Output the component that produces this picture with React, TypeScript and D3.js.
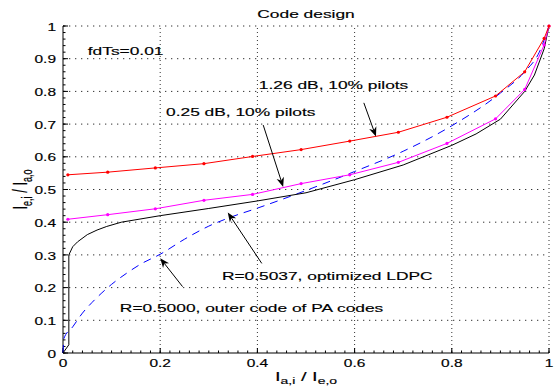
import React from 'react';
import * as d3 from 'd3';

// ---------- data ----------
const xTicks = [0, 0.2, 0.4, 0.6, 0.8, 1];
const xTickLabels = ['0', '0.2', '0.4', '0.6', '0.8', '1'];
const yTicks = [0, 0.1, 0.2, 0.3, 0.4, 0.5, 0.6, 0.7, 0.8, 0.9, 1];
const yTickLabels = ['0', '0.1', '0.2', '0.3', '0.4', '0.5', '0.6', '0.7', '0.8', '0.9', '1'];

// 1.26 dB, 10% pilots (red, dot markers)
const redX = [0.01, 0.092, 0.19, 0.29, 0.39, 0.49, 0.59, 0.69, 0.79, 0.89, 0.95, 0.99, 1.0];
const redY = [0.545, 0.553, 0.566, 0.579, 0.601, 0.622, 0.648, 0.675, 0.721, 0.786, 0.86, 0.962, 1.0];

// 0.25 dB, 10% pilots (magenta, dot markers)
const magX = [0.01, 0.092, 0.19, 0.29, 0.39, 0.49, 0.59, 0.69, 0.79, 0.89, 0.95, 0.99, 1.0];
const magY = [0.409, 0.423, 0.441, 0.467, 0.485, 0.518, 0.545, 0.583, 0.641, 0.716, 0.806, 0.942, 1.0];

// R=0.5037, optimized LDPC (black)
const ldpcX = [0, 0.012, 0.012, 0.02, 0.03, 0.05, 0.07, 0.09, 0.12, 0.2, 0.3, 0.4, 0.5, 0.6, 0.7, 0.8, 0.85, 0.9, 0.95, 0.97, 0.99, 1.0];
const ldpcY = [0, 0.025, 0.3, 0.325, 0.34, 0.362, 0.376, 0.387, 0.4, 0.42, 0.442, 0.465, 0.49, 0.53, 0.575, 0.635, 0.67, 0.715, 0.8, 0.85, 0.93, 1.0];

// R=0.5000, outer code of PA codes (blue dashed)
const paX = [0, 0.002, 0.02, 0.04, 0.06, 0.08, 0.1, 0.13, 0.16, 0.2, 0.25, 0.3, 0.35, 0.4, 0.5, 0.6, 0.7, 0.8, 0.9, 0.95, 0.98, 1.0];
const paY = [0, 0.045, 0.08, 0.122, 0.155, 0.184, 0.21, 0.243, 0.272, 0.302, 0.348, 0.388, 0.418, 0.443, 0.497, 0.555, 0.617, 0.695, 0.795, 0.86, 0.92, 1.0];

const titleText = 'Code design';
const noteText = 'fdTs=0.01';
const labelTexts = ['1.26 dB, 10% pilots', '0.25 dB, 10% pilots', 'R=0.5037, optimized LDPC', 'R=0.5000, outer code of PA codes'];

// ---------- layout ----------
const W = 556;
const H = 387;
const M = { left: 63, right: 7, top: 26, bottom: 34 };
const SX = 1.55; // horizontal glyph stretch of the original picture
const FONT = '"Liberation Sans", Arial, Helvetica, sans-serif';

function SText(props: { x: number; y: number; size: number; anchor?: string; children: React.ReactNode; fill?: string }) {
  const { x, y, size, anchor = 'start', children, fill = '#000' } = props;
  return (
    <text
      transform={`translate(${x},${y}) scale(${SX},1)`}
      fontSize={size}
      textAnchor={anchor}
      fontFamily={FONT}
      fill={fill}
      stroke={fill}
      strokeWidth={0.15}
    >
      {children}
    </text>
  );
}

function Arrow({ x1, y1, x2, y2 }: { x1: number; y1: number; x2: number; y2: number }) {
  const ang = Math.atan2(y2 - y1, x2 - x1);
  const L = 9.5;
  const hw = 3.8;
  const bx = x2 - L * Math.cos(ang);
  const by = y2 - L * Math.sin(ang);
  const nx = x2 - L * 0.7 * Math.cos(ang);
  const ny = y2 - L * 0.7 * Math.sin(ang);
  const px = -Math.sin(ang);
  const py = Math.cos(ang);
  const pts = [
    [x2, y2],
    [bx + px * hw, by + py * hw],
    [nx, ny],
    [bx - px * hw, by - py * hw],
  ];
  return (
    <g>
      <line x1={x1} y1={y1} x2={nx} y2={ny} stroke="#000" strokeWidth={1} />
      <polygon points={pts.map((p) => p.join(',')).join(' ')} fill="#000" />
    </g>
  );
}

export default function App() {
  const x = d3.scaleLinear().domain([0, 1]).range([M.left, W - M.right]);
  const y = d3.scaleLinear().domain([0, 1]).range([H - M.bottom, M.top]);
  const line = d3
    .line<[number, number]>()
    .x((d) => x(d[0]))
    .y((d) => y(d[1]));
  const smooth = d3
    .line<[number, number]>()
    .x((d) => x(d[0]))
    .y((d) => y(d[1]))
    .curve(d3.curveMonotoneX);

  const red = d3.zip(redX, redY) as [number, number][];
  const mag = d3.zip(magX, magY) as [number, number][];
  const ldpc = d3.zip(ldpcX, ldpcY) as [number, number][];
  const pa = d3.zip(paX, paY) as [number, number][];

  const minor = d3.range(0, 1.0001, 0.02);

  // annotation anchors in data units
  const notes = [
    { text: labelTexts[0], tx: 0.403, ty: 0.806, from: [0.619, 0.765], to: [0.644, 0.662] },
    { text: labelTexts[1], tx: 0.212, ty: 0.724, from: [0.412, 0.697], to: [0.453, 0.508] },
    { text: labelTexts[2], tx: 0.327, ty: 0.222, from: [0.409, 0.274], to: [0.339, 0.43] },
    { text: labelTexts[3], tx: 0.117, ty: 0.124, from: [0.246, 0.203], to: [0.2, 0.29] },
  ];

  const x0 = x(0);
  const y0 = y(0);

  return (
    <svg width={W} height={H} style={{ position: 'absolute', left: 0, top: 0, background: '#fff' }}>
      <rect width={W} height={H} fill="#fff" />
      {/* grid */}
      {yTicks.slice(1).map((t) => (
        <line key={'gy' + t} x1={x(0)} x2={x(1)} y1={y(t)} y2={y(t)} stroke="#333" strokeWidth={1} strokeDasharray="1.3,4.7" />
      ))}
      {xTicks.slice(1).map((t) => (
        <line key={'gx' + t} x1={x(t)} x2={x(t)} y1={y(0)} y2={y(1)} stroke="#333" strokeWidth={1} strokeDasharray="1,3" />
      ))}
      {/* axes */}
      <line x1={x0} x2={x(1)} y1={y0} y2={y0} stroke="#000" strokeWidth={1} />
      <line x1={x0} x2={x0} y1={y0} y2={y(1)} stroke="#000" strokeWidth={1} />
      {minor.map((t) => (
        <line key={'mx' + t} x1={x(t)} x2={x(t)} y1={y0} y2={y0 - 2.5} stroke="#000" strokeWidth={1} />
      ))}
      {minor.map((t) => (
        <line key={'my' + t} x1={x0} x2={x0 + 2.5} y1={y(t)} y2={y(t)} stroke="#000" strokeWidth={1} />
      ))}
      {xTicks.map((t) => (
        <line key={'tx' + t} x1={x(t)} x2={x(t)} y1={y0} y2={y0 - 5} stroke="#000" strokeWidth={1} />
      ))}
      {yTicks.map((t) => (
        <line key={'ty' + t} x1={x0} x2={x0 + 5} y1={y(t)} y2={y(t)} stroke="#000" strokeWidth={1} />
      ))}
      {/* tick labels */}
      {xTicks.map((t, i) => (
        <SText key={'lx' + t} x={x(t)} y={y0 + 13.5} size={10} anchor="middle">
          {xTickLabels[i]}
        </SText>
      ))}
      {yTicks.map((t, i) => (
        <SText key={'ly' + t} x={x0 - 7} y={y(t) + 4.6} size={10} anchor="end">
          {yTickLabels[i]}
        </SText>
      ))}
      {/* curves */}
      <path d={smooth(pa) || ''} fill="none" stroke="#0000ff" strokeWidth={1} strokeDasharray="8,6" />
      <path d={line(ldpc) || ''} fill="none" stroke="#000" strokeWidth={1} />
      <path d={line(mag) || ''} fill="none" stroke="#ff00ff" strokeWidth={1} />
      {mag.map((d, i) => (
        <circle key={'m' + i} cx={x(d[0])} cy={y(d[1])} r={1.6} fill="#ff00ff" />
      ))}
      <path d={line(red) || ''} fill="none" stroke="#ff0000" strokeWidth={1} />
      {red.map((d, i) => (
        <circle key={'r' + i} cx={x(d[0])} cy={y(d[1])} r={1.6} fill="#ff0000" />
      ))}
      {/* annotations */}
      {notes.map((n, i) => (
        <g key={'n' + i}>
          <SText x={x(n.tx)} y={y(n.ty)} size={11.2}>
            {n.text}
          </SText>
          <Arrow x1={x(n.from[0])} y1={y(n.from[1])} x2={x(n.to[0])} y2={y(n.to[1])} />
        </g>
      ))}
      <SText x={x(0.051)} y={y(0.911)} size={11.2}>
        {noteText}
      </SText>
      {/* title */}
      <SText x={(x(0) + x(1)) / 2} y={18} size={11.2} anchor="middle">
        {titleText}
      </SText>
      {/* x label */}
      <SText x={(x(0) + x(1)) / 2} y={381} size={13} anchor="middle">
        <tspan>I</tspan>
        <tspan fontSize={9} dy={3}>a,i</tspan>
        <tspan dy={-3}> / I</tspan>
        <tspan fontSize={9} dy={3}>e,o</tspan>
      </SText>
      {/* y label */}
      <text
        transform={`translate(27,${(y(0) + y(1)) / 2}) rotate(-90) scale(1,${SX})`}
        fontSize={13}
        textAnchor="middle"
        fontFamily={FONT}
        stroke="#000"
        strokeWidth={0.15}
      >
        <tspan>I</tspan>
        <tspan fontSize={9} dy={3}>e,i</tspan>
        <tspan dy={-3}> / I</tspan>
        <tspan fontSize={9} dy={3}>a,o</tspan>
      </text>
    </svg>
  );
}
